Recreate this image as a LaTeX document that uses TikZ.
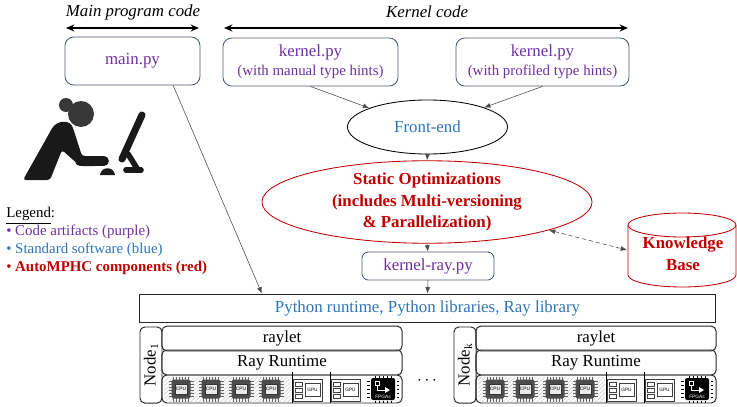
\documentclass[tikz,border=0pt]{standalone}
\usepackage{fontspec}
\setmainfont{Liberation Serif}
\setsansfont{Liberation Sans}
\usetikzlibrary{arrows.meta,patterns,shapes.geometric}

\definecolor{artifact}{HTML}{7030A0}
\definecolor{stdsw}{HTML}{2E75B6}
\definecolor{automphc}{HTML}{C00000}
\definecolor{boxline}{HTML}{4A5874}

\newcommand{\setfs}[2]{\fontsize{#1}{#2}\selectfont}

\begin{document}
\begin{tikzpicture}[
    x=0.025cm,y=-0.025cm,
    >=latex,
    code/.style={
        rounded corners=2.2mm,
        draw=boxline,
        line width=0.6pt,
        text=artifact,
        font=\setfs{12}{13.5},
        align=center
    },
    stage/.style={
        ellipse,
        draw=black,
        line width=0.6pt,
        inner sep=0pt,
        align=center
    },
    layer/.style={
        rounded corners=1.2mm,
        draw=black!85,
        line width=0.7pt,
        minimum width=6cm,
        font=\setfs{12}{14}
    },
    nodelbl/.style={
        rounded corners=1.2mm,
        draw=black!85,
        line width=0.7pt,
        rotate=90,
        minimum width=1.9cm,
        minimum height=0.55cm,
        inner sep=0pt,
        font=\setfs{12}{14}
    },
    link/.style={-{Latex[length=4.5pt,width=3.5pt]}, line width=0.4pt, draw=black!70},
    span/.style={{Stealth[length=6pt,width=5pt,inset=2pt]}-{Stealth[length=6pt,width=5pt,inset=2pt]}, line width=0.8pt},
    pin/.style={draw=black!60, line width=0.7pt},
    card/.style={draw=black!75, line width=0.4pt, fill=white},
    tiny/.style={font=\sffamily\setfs{3.4}{3.4}, inner sep=0pt}
]
    \useasboundingbox (0,0) rectangle (737,407);

    % code regions
    \node[font=\itshape\setfs{12}{14}] (maintitle) at (133,12) {Main program code};
    \node[font=\itshape\setfs{12}{14}] (kerneltitle) at (427,12) {Kernel code};
    \coordinate (mainL) at (66,28);
    \coordinate (mainR) at (199,28);
    \coordinate (kernL) at (224,28);
    \coordinate (kernR) at (628,28);
    \draw[span] (mainL) -- (mainR);
    \draw[span] (kernL) -- (kernR);

    \node[code, minimum width=3.375cm, minimum height=1.2cm] (main) at (132.5,61) {main.py};
    \node[code, minimum width=4.375cm, minimum height=1.2cm] (kman) at (310.5,62)
        {kernel.py\\{\setfs{10.6}{12}(with manual type hints)}};
    \node[code, minimum width=4.325cm, minimum height=1.2cm] (kprof) at (542.5,62)
        {kernel.py\\{\setfs{10.6}{12}(with profiled type hints)}};

    % compiler
    \node[stage, minimum width=4cm, minimum height=1.35cm, text=stdsw, font=\setfs{12}{14}] (fe) at (427.5,127) {Front-end};
    \node[stage, draw=automphc, minimum width=8.25cm, minimum height=1.8cm, text=automphc,
        font=\bfseries\setfs{12}{15.3}] (opt) at (427,202)
        {Static Optimizations\\(includes Multi-versioning\\\& Parallelization)};
    \node[code, rounded corners=1.6mm, minimum width=3.3cm, minimum height=0.7cm] (kray) at (428,266) {kernel-ray.py};

    % knowledge base
    \draw[draw=automphc, line width=0.6pt] (628,225) -- (628,275)
        arc[start angle=180, end angle=0, x radius=54, y radius=12] -- (736,225);
    \draw[draw=automphc, line width=0.6pt] (682,225) ellipse[x radius=54, y radius=12];
    \node[text=automphc, font=\bfseries\setfs{12}{15.6}, align=center] (kb) at (683,254) {Knowledge\\Base};
    \coordinate (kbedge) at (627,250);

    % runtime
    \node[draw=black!85, line width=0.7pt, minimum width=14.375cm, minimum height=0.7cm,
        text=stdsw, font=\setfs{12}{14}] (runtime) at (427.5,308)
        {Python runtime, Python libraries, Ray library};

    \draw[link] (main.-31) -- (runtime.175);
    \draw[link] (kman.south) -- (fe.162);
    \draw[link] (kprof.south) -- (fe.19);
    \draw[link] (fe.south) -- (opt.north);
    \draw[link] (opt.south) -- (kray.north);
    \draw[link] (kray.south) -- (runtime.north);
    \draw[{Latex[length=4.5pt,width=3.5pt]}-{Latex[length=4.5pt,width=3.5pt]}, densely dashed,
        line width=0.4pt, draw=black!70] (opt.-13) -- (kbedge);

    % cluster nodes
    \foreach \x/\k in {162/1,476/k}{
        \node[nodelbl] (lbl\k) at (\x-11,365) {Node\textsubscript{\k}};
        \node[layer, minimum height=0.575cm] (raylet\k) at (\x+120,338.5) {raylet};
        \node[layer, minimum height=0.625cm] (rt\k) at (\x+120,362.5) {Ray Runtime};
        \node[layer, minimum height=0.7cm] (hw\k) at (\x+120,389) {};
        \fill[pattern=north east lines, pattern color=black!18] (\x+2,377) rectangle (\x+129,401);
        % cpus
        \foreach \c in {19,49,79,109}{
            \begin{scope}[shift={(\x+\c,389)}]
                \foreach \p in {-7.5,-4.5,-1.5,1.5,4.5,7.5}{
                    \draw[pin] (\p,-12.5) -- (\p,12.5);
                    \draw[pin] (-12.5,\p) -- (12.5,\p);
                }
                \fill[black!70, rounded corners=1.2pt] (-9.5,-9.5) rectangle (9.5,9.5);
                \filldraw[fill=black!8, draw=black!80, line width=0.3pt] (-6,-5) rectangle (6,5);
                \node[tiny] (cpu\k\c) at (0,0) {CPU};
            \end{scope}
        }
        % gpus
        \foreach \d in {130,168}{
            \draw[line width=0.5pt] (\x+\d,372) -- (\x+\d,403);
            \draw[card] (\x+\d+1,379) rectangle (\x+\d+30,401);
            \foreach \s in {382,388,394}
                \draw[card] (\x+\d+3,\s) rectangle (\x+\d+10,\s+4);
            \draw[card] (\x+\d+13,383) rectangle (\x+\d+28,396);
            \node[tiny] (gpu\k\d) at (\x+\d+20.5,389.5) {GPU};
        }
        % fpga
        \foreach \p in {381,385,...,397}{
            \draw[line width=0.6pt] (\x+205,\p) -- (\x+207.5,\p);
            \draw[line width=0.6pt] (\x+234.5,\p) -- (\x+237,\p);
        }
        \foreach \q in {213,217,...,229}{
            \draw[line width=0.6pt] (\x+\q,375.5) -- (\x+\q,377.5);
            \draw[line width=0.6pt] (\x+\q,400.5) -- (\x+\q,402.5);
        }
        \fill[black, rounded corners=1.5pt] (\x+209,378) rectangle (\x+233,400);
        \draw[white, line width=0.5pt] (\x+213,381) rectangle (\x+217,385);
        \draw[white, line width=0.6pt] (\x+215,385) -- (\x+215,390) -- (\x+223,390);
        \fill[white] (\x+223,387) -- (\x+228,390) -- (\x+223,393) -- cycle;
        \node[tiny, text=white] (fpga\k) at (\x+221,396.5) {FPGAs};
    }
    \node[font=\setfs{12}{14}] (dots) at (427,381) {$\cdots$};

    % developer
    \fill[black!90, rounded corners=2pt] (23,180) -- (50,132)
        .. controls (54,124) and (60,122) .. (64,122)
        .. controls (68,122) and (71,124) .. (73,128)
        -- (82,156) -- (98,156) -- (98,166) -- (80,166) -- (62,150) -- (50,180) -- cycle;
    \draw[black!90, line width=7pt, line cap=round] (80,161) -- (104,161);
    \fill[black!78] (81,114) circle[radius=13];
    \fill[black!78] (66,105) circle[radius=7];
    \fill[black!90] (100,175) .. controls (101,166) and (114,166) .. (115,175) -- cycle;
    \draw[black!90, line width=5pt, line cap=round] (142,115) -- (122,159);
    \draw[black!90, line width=4pt, line cap=round] (128,154) -- (138,170);
    \draw[black!90, line width=4pt, line cap=round] (126,170) -- (141,170);

    % legend
    \node[anchor=north west, align=left, inner sep=0pt, font=\setfs{10.6}{12.8}] (legend) at (6,207)
        {\underline{Legend}:\\
         \textcolor{artifact}{\textbullet{} Code artifacts (purple)}\\
         \textcolor{stdsw}{\textbullet{} Standard software (blue)}\\
         \textcolor{automphc}{\textbullet{} \textbf{AutoMPHC components (red)}}};

\end{tikzpicture}
\end{document}
